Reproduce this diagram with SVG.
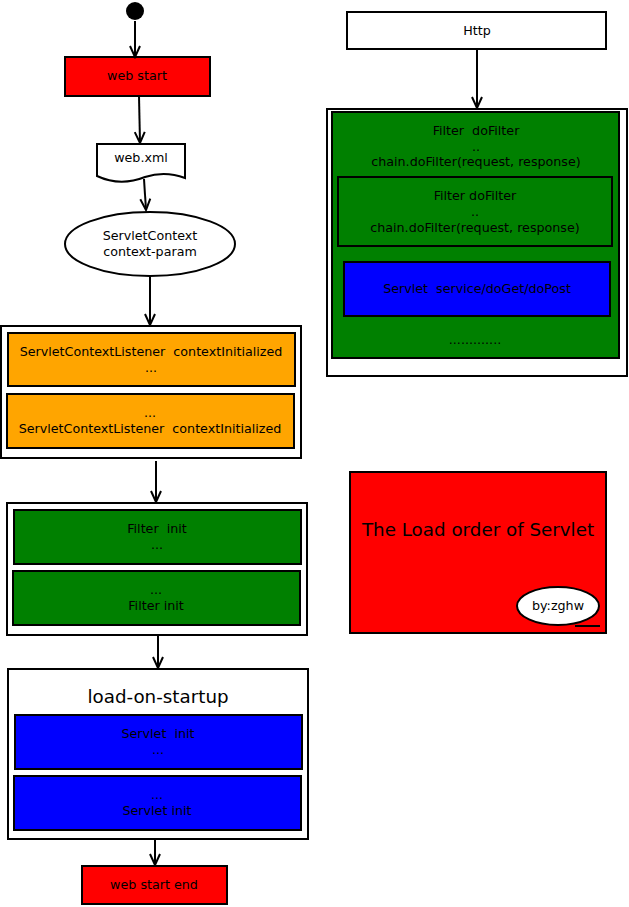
<svg xmlns="http://www.w3.org/2000/svg" width="629" height="907" viewBox="0 0 629 907">
<defs>
<marker id="arr" markerWidth="14" markerHeight="14" refX="12" refY="7" orient="auto" markerUnits="userSpaceOnUse" viewBox="0 0 14 14">
<path d="M1,2 L12,7 L1,12" fill="none" stroke="#000" stroke-width="2"/>
</marker>
</defs>
<style>
text{font-family:"DejaVu Sans","Liberation Sans",sans-serif;font-size:12.7px;fill:#000;text-anchor:middle;white-space:pre}
.b{stroke:#000;stroke-width:2}
.w{fill:#fff}
.red{fill:#ff0000}
.or{fill:#ffa500}
.gr{fill:#008000}
.bl{fill:#0000ff}
.big{font-size:18.3px}
.c line{stroke:#000;stroke-width:2;marker-end:url(#arr)}
</style>
<g id="start"><circle cx="135" cy="11" r="9" fill="#000"/></g>
<g id="web-start"><rect class="b red" x="65" y="57" width="145" height="39"/><text x="137" y="80">web start</text></g>
<g id="web-xml"><path class="b w" d="M97,144 H185 V178 C172,173 160,172 145,177 C130,183 114,184 97,176 Z"/><text x="141" y="162">web.xml</text></g>
<g id="servlet-context"><ellipse class="b w" cx="150" cy="244" rx="85" ry="32"/><text x="150" y="240">ServletContext</text><text x="150" y="256">context-param</text></g>
<g id="listeners"><rect class="b w" x="1" y="326" width="300" height="132"/>
<rect class="b or" x="8" y="333" width="287" height="53"/><text x="151" y="356" xml:space="preserve">ServletContextListener  contextInitialized</text><text x="151" y="372">...</text>
<rect class="b or" x="7" y="394" width="287" height="54"/><text x="150" y="417">...</text><text x="150" y="433" xml:space="preserve">ServletContextListener  contextInitialized</text></g>
<g id="filters"><rect class="b w" x="7" y="503" width="300" height="132"/>
<rect class="b gr" x="14" y="510" width="287" height="54"/><text x="157" y="533" xml:space="preserve">Filter  init</text><text x="157" y="549">...</text>
<rect class="b gr" x="13" y="571" width="287" height="54"/><text x="156" y="594">...</text><text x="156" y="610">Filter init</text></g>
<g id="load-on-startup"><rect class="b w" x="8" y="669" width="300" height="170"/><text class="big" x="158" y="703">load-on-startup</text>
<rect class="b bl" x="15" y="715" width="287" height="54"/><text x="158" y="738" xml:space="preserve">Servlet  init</text><text x="158" y="754">...</text>
<rect class="b bl" x="14" y="776" width="287" height="54"/><text x="157" y="799">...</text><text x="157" y="815">Servlet init</text></g>
<g id="web-start-end"><rect class="b red" x="82" y="866" width="145" height="38"/><text x="154" y="889">web start end</text></g>
<g id="http"><rect class="b w" x="347" y="12" width="259" height="37"/><text x="477" y="35">Http</text></g>
<g id="request-chain"><rect class="b w" x="327" y="109" width="300" height="267"/>
<rect class="b gr" x="332" y="112" width="287" height="246"/><text x="476" y="135" xml:space="preserve">Filter  doFilter</text><text x="476" y="151">..</text><text x="476" y="166">chain.doFilter(request, response)</text>
<rect class="b gr" x="338" y="177" width="274" height="69"/><text x="475" y="200">Filter doFilter</text><text x="475" y="216">..</text><text x="475" y="232">chain.doFilter(request, response)</text>
<rect class="b bl" x="344" y="262" width="266" height="54"/><text x="477" y="293" xml:space="preserve">Servlet  service/doGet/doPost</text>
<text x="475" y="344">.............</text></g>
<g id="title"><rect class="b red" x="350" y="472" width="256" height="161"/><text class="big" x="478" y="536">The Load order of Servlet</text>
<ellipse class="b w" cx="558" cy="606" rx="41" ry="19"/><text x="558" y="610">by:zghw</text><line class="b" x1="575" y1="626" x2="600" y2="626"/></g>
<g id="connectors" class="c">
<line x1="135" y1="21" x2="135" y2="57"/>
<line x1="139" y1="96" x2="140" y2="143"/>
<line x1="144" y1="179" x2="146" y2="210"/>
<line x1="150" y1="276" x2="150" y2="325"/>
<line x1="156" y1="461" x2="156" y2="502"/>
<line x1="158" y1="636" x2="158" y2="668"/>
<line x1="155" y1="840" x2="155" y2="865"/>
<line x1="477" y1="50" x2="477" y2="108"/>
</g>
</svg>
